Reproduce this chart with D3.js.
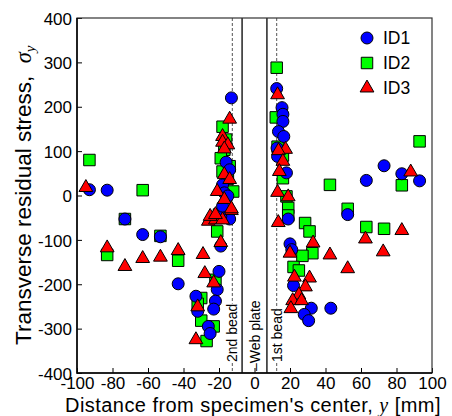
<!DOCTYPE html>
<html><head><meta charset="utf-8">
<script src="https://cdn.jsdelivr.net/npm/d3@7"></script>
<style>body{margin:0;background:#fff} svg{display:block}</style>
</head><body><svg id="c" width="452" height="416"></svg>
<script>
const xTicks = [-100,-80,-60,-40,-20,0,20,40,60,80,100];
const yTicks = [-400,-300,-200,-100,0,100,200,300,400];
const seriesNames = ["ID1","ID2","ID3"];

// ID1 (circles): [distance y (mm), sigma_y]
const id1 = [
  [-93,13],[-83,12],[-73,-53],[-63,-88],[-53,-93],[-43,-199],[-33,-227],[-32,-261],
  [-26,-295],[-25,-311],[-20,-171],[-21,-212],[-22,-238],[-23,-256],[-19,-114],
  [-14,-53],[-19,-47],[-13,220],[-16,75],[-14,58],[-18,24],[-17,6],[-15,-1],[-18,-24],
  [12.5,241],[15.5,198],[16,183],[16,167],[13.5,144],[16.5,133],[12.7,107],[13,88],
  [18,51],[19,-53],[20,-109],[21,-122],[22,-203],[32,-254],[43,-254],[28,-268],
  [30.5,-282],[52.5,-43],[63,34],[73,67],[83,49],[93,33]
];
// ID2 (squares)
const id2 = [
  [-93,80],[-63,12],[-73,-53],[-53,-91],[-83,-134],[-43,-147],[-30,-231],[-32,-244],
  [-30,-282],[-23,-295],[-27,-328],[-22,-190],[-21,-81],[-20,-43],
  [-18,155],[-16,126],[-17,103],[-19,84],[-14,66],[-18,54],[-12,9],[-15,38],
  [12.5,288],[12,176],[13,110],[16,90],[16,39],[18,-2],[19,-28],[19,-45],
  [28.5,-62],[31,-81],[32.6,-130],[27,-136],[22,-161],[25,-169],
  [42.5,24],[52.5,-30],[63,-71],[73,-75],[83,23],[93,122]
];
// ID3 (triangles)
const id3 = [
  [-95,18],[-83,-118],[-73,-160],[-63,-142],[-53,-139],[-43,-124],[-29,-133],[-28,-176],
  [-23,-197],[-32,-251],[-33,-325],[-19,-106],[-26,-58],[-22,-55],[-18,-55],[-13,-34],
  [-25,-47],[-22,-43],
  [-14,172],[-18,133],[-18,120],[-15,114],[-17,105],[-17,47],[-14,36],[-21,9],[-17,-9],[-13,-30],
  [13,227],[17.5,104],[13.5,101],[16,77],[14,54],[13,7],[19,-3],[13.4,-61],[20,-130],
  [33,-107],[42.5,-134],[52.5,-165],[62.5,-98],[72.5,-127],[83,-79],[88,53],
  [22.5,-184],[31,-186],[28.7,-206],[25,-224],[21.5,-237],[26.5,-237],[20.5,-255]
];
const webPlateEdges = [-7, 7];
const beadLines = [-12.5, 12.5];
const zoneLabels = [
  {x:-12.5, text:"2nd bead"},
  {x:0, text:"\u2013Web plate"},
  {x:12.5, text:"1st bead"}
];

const W = 452, H = 416;
const m = {l:77, r:432, t:18, b:373};
const x = d3.scaleLinear().domain([-100,100]).range([m.l, m.r]);
const y = d3.scaleLinear().domain([-400,400]).range([m.b, m.t]);
const svg = d3.select("#c");
const FONT = "'Liberation Sans', Arial, sans-serif";
const SERIF = "'Liberation Serif', 'Times New Roman', serif";

const styles = {
  ID1: {sym: d3.symbolCircle, size: 113, fill: "#0000ff"},
  ID2: {sym: d3.symbolSquare, size: 132, fill: "#00ff00"},
  ID3: {sym: d3.symbolTriangle, size: 82, fill: "#ff0000"}
};

// zone lines
svg.append("g").selectAll("line").data(beadLines).join("line")
  .attr("x1", d => x(d)).attr("x2", d => x(d))
  .attr("y1", m.t).attr("y2", m.b)
  .attr("stroke", "#555").attr("stroke-width", 1).attr("stroke-dasharray", "3,2");
svg.append("g").selectAll("line").data(webPlateEdges).join("line")
  .attr("x1", d => x(d)).attr("x2", d => x(d))
  .attr("y1", m.t).attr("y2", m.b)
  .attr("stroke", "#000").attr("stroke-width", 1.3);

// zone labels
const zl = svg.append("g");
zoneLabels.forEach(z => {
  const g = zl.append("g").attr("transform", `translate(${x(z.x)+5},${m.b-(z.x===0?2:11)}) rotate(-90)`);
  const rect = g.append("rect").attr("fill", "#fff");
  const t = g.append("text").attr("x", 0).attr("y", 0)
    .attr("font-family", FONT).attr("font-size", 14).attr("fill", "#000")
    .text(z.text);
  const bb = t.node().getBBox();
  rect.attr("x", bb.x).attr("y", bb.y+1).attr("width", bb.width).attr("height", bb.height-2);
});

// axes
const fmt = d => String(d);
const gx = svg.append("g").attr("transform", `translate(0,${m.b})`)
  .call(d3.axisBottom(x).tickValues(xTicks).tickFormat(fmt).tickSizeInner(-5).tickSizeOuter(0).tickPadding(3.5));
const gy = svg.append("g").attr("transform", `translate(${m.l},0)`)
  .call(d3.axisLeft(y).tickValues(yTicks).tickFormat(fmt).tickSizeInner(-5).tickSizeOuter(0).tickPadding(5));
[gx, gy].forEach(g => {
  g.select(".domain").remove();
  g.selectAll("line").attr("stroke", "#000");
  g.selectAll("text").attr("font-family", FONT).attr("font-size", 17).attr("fill", "#000");
});
gy.selectAll("text").attr("dy", "0.36em");

// frame
svg.append("rect").attr("x", m.l).attr("y", m.t).attr("width", m.r-m.l).attr("height", m.b-m.t)
  .attr("fill", "none").attr("stroke", "#333").attr("stroke-width", 1.2);
svg.append("path").attr("d", `M${m.l},${m.t}V${m.b}H${m.r}`)
  .attr("fill", "none").attr("stroke", "#000").attr("stroke-width", 1.5);

// data (squares, circles, triangles)
const dataBy = {ID1: id1, ID2: id2, ID3: id3};
["ID2","ID1","ID3"].forEach(name => {
  const s = styles[name];
  svg.append("g").selectAll("path").data(dataBy[name]).join("path")
    .attr("d", d3.symbol(s.sym, s.size))
    .attr("transform", d => `translate(${x(d[0])},${y(d[1])})`)
    .attr("fill", s.fill).attr("stroke", "#000").attr("stroke-width", 1);
});

// legend
const lg = svg.append("g");
seriesNames.forEach((name, i) => {
  const s = styles[name];
  const cy = 38 + i*25;
  lg.append("path").attr("d", d3.symbol(s.sym, s.size))
    .attr("transform", `translate(367,${cy})`)
    .attr("fill", s.fill).attr("stroke", "#000").attr("stroke-width", 1);
  lg.append("text").attr("x", 383).attr("y", cy).attr("dy", "0.36em")
    .attr("font-family", FONT).attr("font-size", 17.5).text(name);
});

// axis titles
const xt = svg.append("text").attr("x", 65).attr("y", 411.5)
  .attr("font-family", FONT).attr("font-size", 20).attr("letter-spacing", 0.45).attr("fill", "#000");
xt.append("tspan").text("Distance from specimen's center, ");
xt.append("tspan").attr("font-family", SERIF).attr("font-style", "italic").text("y");
xt.append("tspan").text(" [mm]");

const yt = svg.append("text").attr("transform", "translate(31,345) rotate(-90)")
  .attr("font-family", FONT).attr("font-size", 22.5).attr("fill", "#000");
yt.append("tspan").text("Transverse residual stress,\u00a0\u00a0");
yt.append("tspan").attr("font-family", SERIF).attr("font-style", "italic").text("\u03c3");
yt.append("tspan").attr("font-family", SERIF).attr("font-style", "italic")
  .attr("font-size", 15).attr("dy", 4).text("y");
</script></body></html>
